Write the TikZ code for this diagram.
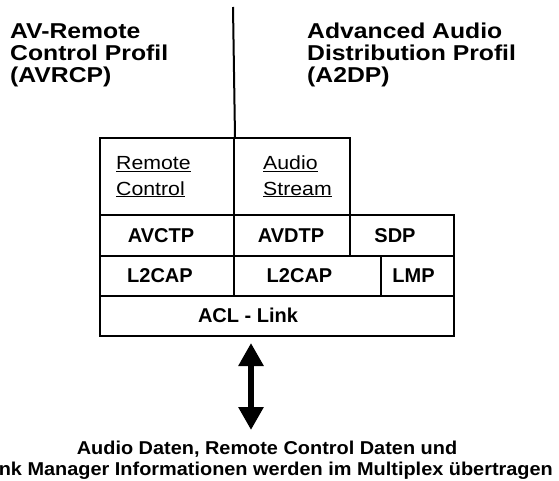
\documentclass[tikz,border=0pt]{standalone}
\usepackage{fontspec}
\setmainfont{Liberation Sans}
\newfontfamily\headfam[FakeStretch=1.15]{Liberation Sans}
\newfontfamily\boxfam[FakeStretch=1.12]{Liberation Sans}
\newfontfamily\footfam[FakeStretch=1.07]{Liberation Sans}
\usetikzlibrary{arrows.meta}

\tikzset{
  layer/.style={draw=black, line width=2pt, inner sep=0pt, anchor=north west},
  head/.style={inner sep=0pt, anchor=base west,
    font=\headfam\bfseries\fontsize{21.5}{21.7}\selectfont},
  proto/.style={inner sep=0pt, font=\bfseries\fontsize{20}{24}\selectfont},
  service/.style={inner sep=0pt, anchor=base west,
    font=\boxfam\fontsize{19}{23}\selectfont},
  foot/.style={inner sep=0pt, anchor=base,
    font=\footfam\bfseries\fontsize{18.6}{21}\selectfont},
  bothway/.style={line width=6pt,
    {Triangle[width=24pt,length=23pt]}-{Triangle[width=24pt,length=23pt]}}
}

\begin{document}
\begin{tikzpicture}[x=1pt,y=-1pt]
\useasboundingbox (0,0) rectangle (559,481);
\clip (0,0) rectangle (559,481);

% profile headings
\node[head] (avrcpa) at (10,39) {AV-Remote};
\node[head] (avrcpb) at (10,60.7) {Control Profil};
\node[head] (avrcpc) at (10,82.4) {(AVRCP)};
\node[head] (a2dpa) at (307,39) {Advanced Audio};
\node[head] (a2dpb) at (307,60.7) {Distribution Profil};
\node[head] (a2dpc) at (307,82.4) {(A2DP)};

% top row: services
\node[layer, minimum width=134pt, minimum height=77pt] (rc) at (99,137) {};
\node[layer, minimum width=116pt, minimum height=77pt] (as) at (233,137) {};
\node[service] (rca) at (116,170) {\underline{Remote}};
\node[service] (rcb) at (116,195) {\underline{Control}};
\node[service] (asa) at (263,170) {\underline{Audio}};
\node[service] (asb) at (263,195) {\underline{Stream}};

% separating line between the two profiles
\coordinate (divtop) at (233,7);
\draw[line width=2pt] (divtop) -- (rc.north east);

% transport row
\node[layer, minimum width=134pt, minimum height=41pt] (avctp) at (99,214) {};
\node[layer, minimum width=116pt, minimum height=41pt] (avdtp) at (233,214) {};
\node[layer, minimum width=104pt, minimum height=41pt] (sdp) at (349,214) {};
\node[proto] (avctpt) at (161,235.5) {AVCTP};
\node[proto] (avdtpt) at (291,235.5) {AVDTP};
\node[proto] (sdpt) at (395,235.5) {SDP};

% L2CAP row
\node[layer, minimum width=134pt, minimum height=40pt] (l2a) at (99,255) {};
\node[layer, minimum width=147pt, minimum height=40pt] (l2b) at (233,255) {};
\node[layer, minimum width=73pt, minimum height=40pt] (lmp) at (380,255) {};
\node[proto] (l2at) at (160,275.5) {L2CAP};
\node[proto] (l2bt) at (299.5,275.5) {L2CAP};
\node[proto] (lmpt) at (413.5,275.5) {LMP};

% link row
\node[layer, minimum width=354pt, minimum height=40pt] (acl) at (99,295) {};
\node[proto] (aclt) at (248,315.5) {ACL - Link};

% multiplexed data flow
\coordinate (flowtop) at (251,343);
\coordinate (flowbot) at (251,430);
\draw[bothway] (flowtop) -- (flowbot);

\node[foot] (notea) at (267,454) {Audio Daten, Remote Control Daten und};
\node[foot] (noteb) at (267,475) {Link Manager Informationen werden im Multiplex übertragen};
\end{tikzpicture}
\end{document}
